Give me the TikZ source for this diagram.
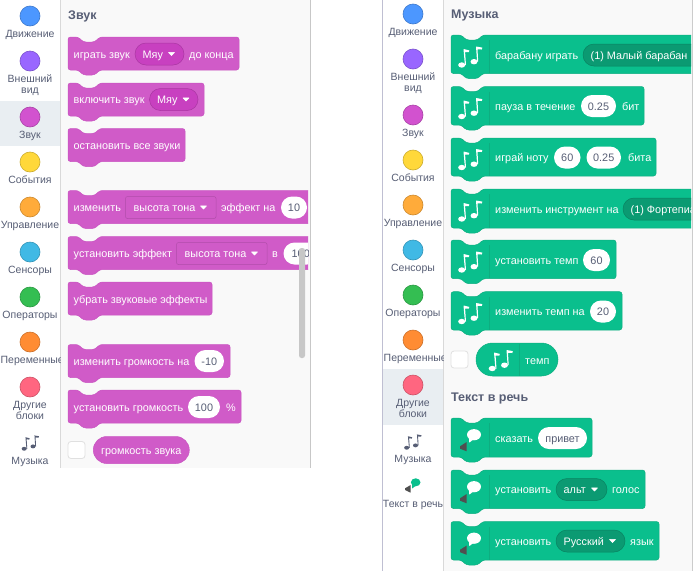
\documentclass[tikz,border=0pt]{standalone}
\usepackage{fontspec}
\setmainfont{Liberation Sans}
\usetikzlibrary{shapes.misc}
\definecolor{ink}{HTML}{575E75}
\definecolor{pal}{HTML}{F9F9F9}
\definecolor{hili}{HTML}{E9EEF2}
\definecolor{sndF}{HTML}{D05BC8}
\definecolor{sndS}{HTML}{C954C1}
\definecolor{sndD}{HTML}{C840C0}
\definecolor{musF}{HTML}{0ABF8D}
\definecolor{musS}{HTML}{0DAE80}
\definecolor{musD}{HTML}{0B9A72}
\definecolor{spk}{HTML}{505050}
\newcount\tn
\newcommand{\nxt}{\global\advance\tn by 1\relax}
\newcommand{\nid}{n\the\tn}
\tikzset{
  lbl/.style={inner sep=0pt,font=\fontsize{10.85}{11}\selectfont,text=white,text height=8pt,text depth=0pt},
  side/.style={inner sep=0pt,font=\fontsize{10.5}{10.5}\selectfont,text=ink,anchor=base},
  head/.style={inner sep=0pt,font=\bfseries\fontsize{12.5}{12.5}\selectfont,text=ink,anchor=base west},
  dot/.style={circle,draw=#1!80!black,fill=#1,minimum size=20pt,inner sep=0pt,line width=.6pt},
  inwhite/.style={rounded rectangle,fill=white,text=ink,inner sep=0pt,minimum height=22pt,font=\fontsize{10.85}{11}\selectfont,text height=8pt,text depth=0pt},
  snd/.style={fill=sndF,draw=sndS,line width=.5pt,rounded corners=2.5pt},
  mus/.style={fill=musF,draw=musS,line width=.5pt,rounded corners=2.5pt},
  check/.style={rounded corners=3pt,fill=white,draw=black!12,line width=.8pt,minimum width=17pt,minimum height=17pt,inner sep=0pt},
}
% stack block: style, x, top, right, bottom
\newcommand{\blk}[5]{\path[#1] (#2,#3) -- (#2+10,#3) -- (#2+15.5,#3+5) -- (#2+26.5,#3+5) -- (#2+32,#3) -- (#4,#3) -- (#4,#5) -- (#2+32,#5) -- (#2+26.5,#5+5) -- (#2+15.5,#5+5) -- (#2+10,#5) -- (#2,#5) -- cycle;}
% left-aligned text at x, centre y
\newcommand{\TL}[3]{\nxt\node[lbl,anchor=west] (\nid) at (#1,#2) {#3};}
% white input: x1,x2,y,text
\newcommand{\inp}[4]{\nxt\node[inwhite,minimum width={(#2-#1)*1pt}] (\nid) at ({(#1+#2)/2},#3) {#4};}
% dropdown pill
\newcommand{\ddp}[5]{\nxt\node[rounded rectangle,fill=#5,draw=#5!85!black,line width=.5pt,inner sep=0pt,minimum height=22pt,minimum width={(#2-#1)*1pt}] (\nid) at ({(#1+#2)/2},#3) {};}
\newcommand{\ddr}[5]{\nxt\node[rounded corners=2pt,fill=#5,draw=#5!85!black,line width=.5pt,inner sep=0pt,minimum height=22pt,minimum width={(#2-#1)*1pt}] (\nid) at ({(#1+#2)/2},#3) {};}
\newcommand{\tri}[2]{\path[fill=white,draw=white,line width=.5pt,line join=round] (#1-3,#2-1.6) -- (#1+3,#2-1.6) -- (#1,#2+1.6) -- cycle;}
% notes icon
\newcommand{\notes}[4]{\begin{scope}[shift={(#1,#2)},scale=#3]
  \fill[#4] (-8.8,8) ellipse [x radius=3.5,y radius=2.7];
  \fill[#4] (3.5,4.7) ellipse [x radius=3.5,y radius=2.7];
  \fill[#4] (-5.6,8) -- (-7,-8) -- (-1.2,-6.6) -- (-1.7,-4.8) -- (-5.4,-5) -- (-4.5,8) -- cycle;
  \fill[#4] (6.6,4.7) -- (5.5,-10.5) -- (11.8,-9.4) -- (11.3,-7.5) -- (7,-7.7) -- (7.7,4.7) -- cycle;
\end{scope}}
% speech + speaker icon in block; #1 x of block, #2 top of block
\newcommand{\speech}[2]{\begin{scope}[shift={(#1,#2)}]
  \fill[white] (23,16.7) ellipse [x radius=7,y radius=5.6];
  \fill[white] (18,20) -- (18.3,24.6) -- (23,21) -- cycle;
  \fill[spk] (9,28.3) -- (15.7,24) -- (15.7,33.3) -- (9,30.7) -- cycle;
\end{scope}}
\newcommand{\sep}[3]{\draw[musS,line width=.7pt] (#1,#2) -- (#1,#3);}
\begin{document}
\begin{tikzpicture}[x=1pt,y=-1pt]
\useasboundingbox (0,0) rectangle (696,571);
\fill[white] (0,0) rectangle (696,571);
% ---------------- panels
\fill[pal] (61,0) rectangle (310,468);
\fill[hili] (0,101) rectangle (60,146);
\draw[black!15,line width=.8pt] (60.5,0) -- (60.5,468);
\draw[black!22,line width=1pt] (310.5,0) -- (310.5,468);
\fill[pal] (444,0) rectangle (692,571);
\fill[hili] (383,369) rectangle (443,425);
\draw[blue!30!black!25,line width=1pt] (382.5,0) -- (382.5,571);
\draw[black!15,line width=.8pt] (443.5,0) -- (443.5,571);
\draw[black!20,line width=1pt] (692.5,0) -- (692.5,571);
% ---------------- left sidebar
\definecolor{c1}{HTML}{4C97FF}\definecolor{c2}{HTML}{9966FF}\definecolor{c3}{HTML}{D252CF}
\definecolor{c4}{HTML}{FFD83A}\definecolor{c5}{HTML}{FFAB3A}\definecolor{c6}{HTML}{40B9E5}
\definecolor{c7}{HTML}{34BE52}\definecolor{c8}{HTML}{FF8C33}\definecolor{c9}{HTML}{FF6680}
\node[dot=c1] (l1) at (30,16) {};
\node[dot=c2] (l2) at (30,61) {};
\node[dot=c3] (l3) at (30,117) {};
\node[dot=c4] (l4) at (30,162) {};
\node[dot=c5] (l5) at (30,207) {};
\node[dot=c6] (l6) at (30,252) {};
\node[dot=c7] (l7) at (30,297) {};
\node[dot=c8] (l8) at (30,342) {};
\node[dot=c9] (l9) at (30,387) {};
\notes{30.5}{443}{.72}{ink}
\begin{scope}
\clip (0,0) rectangle (60,468);
\node[side] (la) at (30,37) {Движение};
\node[side] (lb) at (30,82) {Внешний};
\node[side] (lc) at (30,93.5) {вид};
\node[side] (ld) at (30,138) {Звук};
\node[side] (le) at (30,183) {События};
\node[side] (lf) at (30,228) {Управление};
\node[side] (lg) at (30,273.5) {Сенсоры};
\node[side] (lh) at (30,318) {Операторы};
\node[side,anchor=base west] (li) at (.5,363) {Переменные};
\node[side] (lj) at (30,408.5) {Другие};
\node[side] (lk) at (30,419.5) {блоки};
\node[side] (ll) at (30,464) {Музыка};
\end{scope}
% ---------------- sound palette
\node[head] (h1) at (68,19) {Звук};
\blk{snd}{68}{37}{239}{70}
\TL{73.5}{54}{играть звук}
\ddp{135}{184}{54}{}{sndD}
\TL{142.5}{54}{Мяу}\tri{171.5}{54}
\TL{189}{54}{до конца}
\blk{snd}{68}{83}{204}{116}
\TL{73.5}{99.5}{включить звук}
\ddp{149.5}{198}{99.5}{}{sndD}
\TL{157}{99.5}{Мяу}\tri{186}{99.5}
\blk{snd}{68}{128.5}{185}{161.5}
\TL{73.5}{145.5}{остановить все звуки}
\begin{scope}
\clip (60,180) rectangle (308,280);
\blk{snd}{68}{190.5}{330}{223.5}
\TL{73.5}{207.5}{изменить}
\ddr{125.5}{216}{207.5}{}{sndF}
\TL{133.5}{207.5}{высота тона}\tri{203.5}{207.5}
\TL{221}{207.5}{эффект на}
\inp{281}{307}{207.5}{10}
\blk{snd}{68}{236.5}{330}{269.5}
\TL{73.5}{253.5}{установить эффект}
\ddr{176.5}{267}{253.5}{}{sndF}
\TL{184.5}{253.5}{высота тона}\tri{254.5}{253.5}
\TL{272}{253.5}{в}
\inp{283.5}{318}{253.5}{100}
\end{scope}
\blk{snd}{68}{282}{212}{315}
\TL{73.5}{299}{убрать звуковые эффекты}
\blk{snd}{68}{344.5}{230}{377.5}
\TL{73.5}{361}{изменить громкость на}
\inp{194.5}{224}{361}{-10}
\blk{snd}{68}{390}{241}{423}
\TL{73.5}{407}{установить громкость}
\inp{188}{220}{407}{100}
\TL{226}{407}{\%}
\node[check] (k1) at (76.5,450) {};
\node[rounded rectangle,fill=sndF,draw=sndS,line width=.5pt,minimum width=96pt,minimum height=27pt,inner sep=0pt,text=white,font=\fontsize{10.85}{11}\selectfont,text height=8pt,text depth=0pt] (r1) at (141.3,450) {громкость звука};
\fill[black!22,rounded corners=2.5pt] (299,248) rectangle (305,358);
% ---------------- right sidebar
\node[dot=c1] (m1) at (413,14) {};
\node[dot=c2] (m2) at (413,59) {};
\node[dot=c3] (m3) at (413,115) {};
\node[dot=c4] (m4) at (413,160) {};
\node[dot=c5] (m5) at (413,205) {};
\node[dot=c6] (m6) at (413,250) {};
\node[dot=c7] (m7) at (413,295) {};
\node[dot=c8] (m8) at (413,340) {};
\node[dot=c9] (m9) at (413,385) {};
\notes{413}{442}{.72}{ink}
\fill[musF] (415.7,482.3) ellipse [x radius=4.8,y radius=4];
\fill[musF] (412,484.5) -- (412,488.5) -- (415.5,486) -- cycle;
\fill[spk] (405,488.3) -- (410.7,485) -- (410.7,492.7) -- (405,490) -- cycle;
\begin{scope}
\clip (383,0) rectangle (443,571);
\node[side] (ma) at (413,35) {Движение};
\node[side] (mb) at (413,80) {Внешний};
\node[side] (mc) at (413,91.5) {вид};
\node[side] (md) at (413,136) {Звук};
\node[side] (me) at (413,181) {События};
\node[side] (mf) at (413,226) {Управление};
\node[side] (mg) at (413,271) {Сенсоры};
\node[side] (mh) at (413,316) {Операторы};
\node[side,anchor=base west] (mi) at (383.5,361) {Переменные};
\node[side] (mj) at (413,406) {Другие};
\node[side] (mk) at (413,417) {блоки};
\node[side] (ml) at (413,462) {Музыка};
\node[side] (mm) at (413,507) {Текст в речь};
\end{scope}
% ---------------- music palette
\node[head] (h2) at (451,18.5) {Музыка};
\begin{scope}
\clip (444,0) rectangle (691,571);
\blk{mus}{451}{35}{720}{73.5}
\sep{489}{40}{73}
\notes{470.5}{57}{1}{white}
\TL{495}{55}{барабану играть}
\ddp{583}{720}{55}{}{musD}
\TL{590.5}{55}{(1) Малый барабан}
\blk{mus}{451}{86.5}{644}{125}
\sep{489}{91.5}{124.5}
\notes{470.5}{108.5}{1}{white}
\TL{495}{106}{пауза в течение}
\inp{581}{616}{106}{0.25}
\TL{622}{106}{бит}
\blk{mus}{451}{138}{656}{176}
\sep{489}{143}{175.5}
\notes{470.5}{159.5}{1}{white}
\TL{495}{157.5}{играй ноту}
\inp{554}{580.5}{157.5}{60}
\inp{586.5}{621}{157.5}{0.25}
\TL{628}{157.5}{бита}
\blk{mus}{451}{189}{720}{228}
\sep{489}{194}{227.5}
\notes{470.5}{211}{1}{white}
\TL{495}{209}{изменить инструмент на}
\ddp{623}{720}{209}{}{musD}
\TL{630.5}{209}{(1) Фортепиано}
\blk{mus}{451}{240}{616}{278.7}
\sep{489}{245}{278}
\notes{470.5}{262}{1}{white}
\TL{495}{260}{установить темп}
\inp{583}{610}{260}{60}
\blk{mus}{451}{291.7}{622}{330}
\sep{489}{296.7}{329.5}
\notes{470.5}{313.5}{1}{white}
\TL{495}{311.5}{изменить темп на}
\inp{590}{616}{311.5}{20}
\end{scope}
\node[check] (k2) at (459.5,359.5) {};
\node[rounded rectangle,fill=musF,draw=musS,line width=.5pt,minimum width=82pt,minimum height=33pt,inner sep=0pt] (r2) at (517,359.5) {};
\sep{519}{343.5}{375.5}
\notes{501}{360.5}{1}{white}
\TL{525}{360}{темп}
\node[head] (h3) at (451,401) {Текст в речь};
\blk{mus}{451}{418}{592}{457}
\sep{489}{423}{456.5}
\speech{451}{418}
\TL{495}{438}{сказать}
\inp{538}{587}{438}{привет}
\blk{mus}{451}{470}{645}{508.5}
\sep{489}{475}{508}
\speech{451}{470}
\TL{495}{489.5}{установить}
\ddp{556}{607}{489.5}{}{musD}
\TL{563.5}{489.5}{альт}\tri{594.5}{489.5}
\TL{612}{489.5}{голос}
\blk{mus}{451}{521.5}{659}{560}
\sep{489}{526.5}{559.5}
\speech{451}{521.5}
\TL{495}{541}{установить}
\ddp{556}{625}{541}{}{musD}
\TL{563.5}{541}{Русский}\tri{612.5}{541}
\TL{630}{541}{язык}
\end{tikzpicture}
\end{document}
